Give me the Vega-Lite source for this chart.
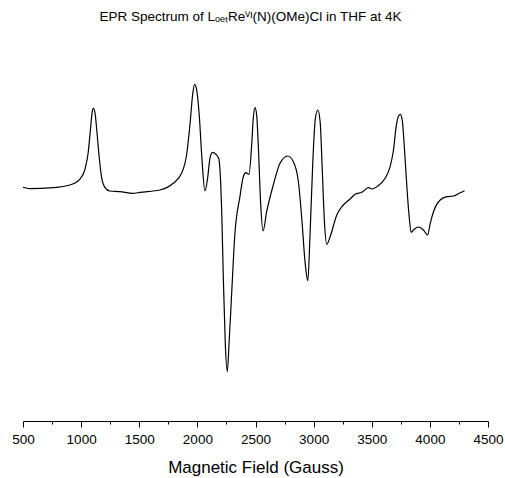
{
  "$schema": "https://vega.github.io/schema/vega-lite/v6.json",
  "autosize": "none",
  "padding": {"left": 23, "top": 40, "right": 17, "bottom": 57},
  "width": 465,
  "height": 381,
  "background": "white",
  "config": {"view": {"stroke": null}, "font": "Liberation Sans"},
  "title": {
    "text": "EPR Spectrum of LₒₑₜReⱽᴵ(N)(OMe)Cl in THF at 4K",
    "font": "Liberation Sans",
    "fontSize": 13.5,
    "fontWeight": "normal",
    "color": "black",
    "anchor": "middle",
    "dx": -5,
    "offset": 17
  },
  "data": {
    "values": [
      {"field": 500, "intensity": 2.7},
      {"field": 558, "intensity": 1.3},
      {"field": 758, "intensity": 2.3},
      {"field": 902, "intensity": 5},
      {"field": 988, "intensity": 10.7},
      {"field": 1031, "intensity": 20},
      {"field": 1060, "intensity": 36.7},
      {"field": 1080, "intensity": 60},
      {"field": 1098, "intensity": 80},
      {"field": 1106, "intensity": 81.7},
      {"field": 1120, "intensity": 76.7},
      {"field": 1137, "intensity": 56.7},
      {"field": 1155, "intensity": 33.3},
      {"field": 1175, "intensity": 13.3},
      {"field": 1204, "intensity": 2.7},
      {"field": 1247, "intensity": -1},
      {"field": 1333, "intensity": -1.7},
      {"field": 1447, "intensity": -3.3},
      {"field": 1505, "intensity": -2.3},
      {"field": 1677, "intensity": 0},
      {"field": 1792, "intensity": 6.7},
      {"field": 1864, "intensity": 16.7},
      {"field": 1907, "intensity": 35},
      {"field": 1936, "intensity": 65},
      {"field": 1959, "intensity": 95},
      {"field": 1976, "intensity": 105.7},
      {"field": 1994, "intensity": 100},
      {"field": 2016, "intensity": 75},
      {"field": 2039, "intensity": 31.7},
      {"field": 2065, "intensity": -1},
      {"field": 2088, "intensity": 11.7},
      {"field": 2108, "intensity": 31.7},
      {"field": 2131, "intensity": 37.7},
      {"field": 2160, "intensity": 35.7},
      {"field": 2183, "intensity": 31.7},
      {"field": 2200, "intensity": 8.3},
      {"field": 2209, "intensity": -20},
      {"field": 2223, "intensity": -86.7},
      {"field": 2240, "intensity": -153.3},
      {"field": 2257, "intensity": -181.7},
      {"field": 2274, "intensity": -150},
      {"field": 2295, "intensity": -103.3},
      {"field": 2323, "intensity": -43.3},
      {"field": 2366, "intensity": -6.7},
      {"field": 2395, "intensity": 13.3},
      {"field": 2418, "intensity": 17.3},
      {"field": 2444, "intensity": 15.7},
      {"field": 2467, "intensity": 45},
      {"field": 2481, "intensity": 71.7},
      {"field": 2496, "intensity": 82.3},
      {"field": 2510, "intensity": 75},
      {"field": 2524, "intensity": 45},
      {"field": 2545, "intensity": -15},
      {"field": 2565, "intensity": -41},
      {"field": 2596, "intensity": -21.7},
      {"field": 2653, "intensity": 5},
      {"field": 2711, "intensity": 26.7},
      {"field": 2777, "intensity": 34},
      {"field": 2826, "intensity": 28.3},
      {"field": 2869, "intensity": 8.3},
      {"field": 2898, "intensity": -28.3},
      {"field": 2926, "intensity": -71.7},
      {"field": 2950, "intensity": -90.7},
      {"field": 2969, "intensity": -45},
      {"field": 2993, "intensity": 28.3},
      {"field": 3015, "intensity": 71.7},
      {"field": 3036, "intensity": 80},
      {"field": 3056, "intensity": 68.3},
      {"field": 3075, "intensity": 18.3},
      {"field": 3093, "intensity": -31.7},
      {"field": 3113, "intensity": -54.3},
      {"field": 3142, "intensity": -46.7},
      {"field": 3199, "intensity": -25},
      {"field": 3256, "intensity": -15},
      {"field": 3314, "intensity": -9},
      {"field": 3357, "intensity": -4.3},
      {"field": 3415, "intensity": -2.3},
      {"field": 3472, "intensity": 2.3},
      {"field": 3501, "intensity": 1},
      {"field": 3544, "intensity": 3.3},
      {"field": 3615, "intensity": 11.7},
      {"field": 3658, "intensity": 23.3},
      {"field": 3687, "intensity": 40},
      {"field": 3710, "intensity": 63.3},
      {"field": 3730, "intensity": 74},
      {"field": 3745, "intensity": 75.7},
      {"field": 3762, "intensity": 70},
      {"field": 3782, "intensity": 40},
      {"field": 3802, "intensity": 3.3},
      {"field": 3822, "intensity": -26.7},
      {"field": 3839, "intensity": -42.3},
      {"field": 3865, "intensity": -39.3},
      {"field": 3902, "intensity": -37},
      {"field": 3945, "intensity": -40},
      {"field": 3980, "intensity": -45},
      {"field": 4003, "intensity": -33.3},
      {"field": 4031, "intensity": -21.7},
      {"field": 4089, "intensity": -10},
      {"field": 4147, "intensity": -6.7},
      {"field": 4204, "intensity": -6},
      {"field": 4261, "intensity": -2.7},
      {"field": 4298, "intensity": -0.7}
    ]
  },
  "mark": {"type": "line", "color": "black", "strokeWidth": 1.2, "interpolate": "monotone"},
  "encoding": {
    "x": {
      "field": "field",
      "type": "quantitative",
      "scale": {"domain": [500, 4500], "nice": false, "zero": false},
      "axis": {
        "title": "Magnetic Field (Gauss)",
        "titleFont": "Liberation Sans",
        "titleFontSize": 17,
        "titleFontWeight": "normal",
        "titleColor": "black",
        "titlePadding": 14,
        "values": [500, 750, 1000, 1250, 1500, 1750, 2000, 2250, 2500, 2750, 3000, 3250, 3500, 3750, 4000, 4250, 4500],
        "labelExpr": "datum.value % 500 === 0 ? datum.label : ''",
        "format": "d",
        "labelFont": "Liberation Sans",
        "labelFontSize": 13.5,
        "labelColor": "black",
        "labelPadding": 5,
        "labelFlush": false,
        "labelOverlap": false,
        "domainColor": "black",
        "domainWidth": 1,
        "tickColor": "black",
        "tickWidth": 1,
        "tickSize": {"condition": {"test": "datum.value % 500 === 0", "value": 6}, "value": 3},
        "grid": false
      }
    },
    "y": {
      "field": "intensity",
      "type": "quantitative",
      "scale": {"domain": [-231, 150], "nice": false, "zero": false},
      "axis": null
    }
  }
}
